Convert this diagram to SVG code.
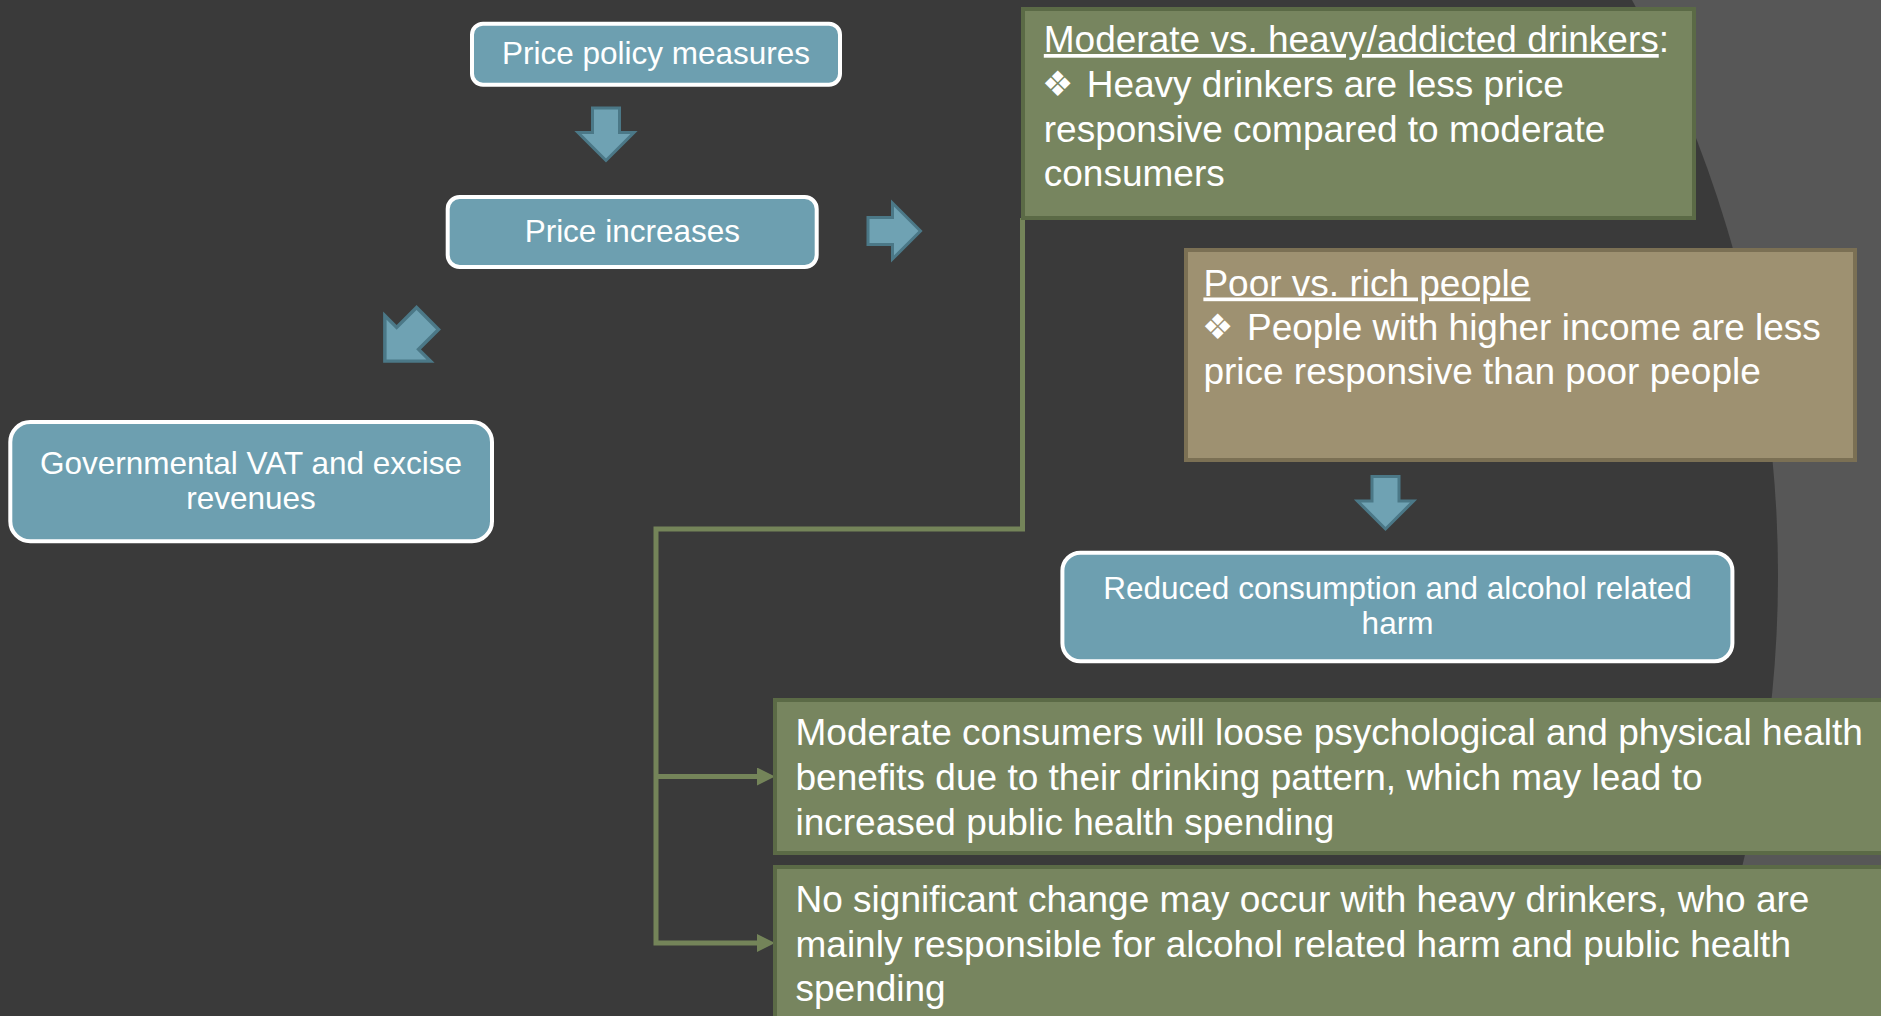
<svg xmlns="http://www.w3.org/2000/svg" width="1881" height="1016" viewBox="0 0 1881 1016">
  <defs>
    <style>
      .blue { fill: #6d9fb0; stroke: #ffffff; stroke-width: 4; }
      .green { fill: #77855f; stroke: #5b6a46; stroke-width: 4; }
      .tan { fill: #9e9171; stroke: #7b7054; stroke-width: 4; }
      .label { font-family: "Liberation Sans", Arial, sans-serif; font-size: 31.5px; fill: #ffffff; text-anchor: middle; }
      .body { font-family: "Liberation Sans", Arial, sans-serif; font-size: 37px; fill: #ffffff; }
      .bullet { font-family: "DejaVu Sans", sans-serif; font-size: 35px; fill: #ffffff; }
      .block { fill: #6fa2b3; stroke: #4b7887; stroke-width: 3; stroke-linejoin: miter; }
      .conn { fill: none; stroke: #748459; stroke-width: 5; }
    </style>
    <!-- block arrow pointing down, centred on the origin -->
    <path id="blockArrow" d="M-13.5,-26.5 H13.5 V-2 H28 L0,26 L-28,-2 H-13.5 Z"/>
    <marker id="head" markerUnits="userSpaceOnUse" viewBox="0 0 18 18" refX="5" refY="9" markerWidth="18" markerHeight="18" orient="auto">
      <path d="M0,0 L18,9 L0,18 Z" fill="#748459"/>
    </marker>
  </defs>

  <!-- background: lighter panel on the right, dark disc over the rest -->
  <rect x="0" y="0" width="1881" height="1016" fill="#575757"/>
  <circle cx="573" cy="575" r="1205" fill="#3a3a3a"/>

  <!-- block arrows -->
  <g id="block-arrows">
    <use href="#blockArrow" class="block" transform="translate(606,134.5)"/>
    <use href="#blockArrow" class="block" transform="translate(894.5,231) rotate(-90)"/>
    <use href="#blockArrow" class="block" transform="translate(406,340) rotate(45) scale(1.15)"/>
    <use href="#blockArrow" class="block" transform="translate(1385.5,503)"/>
  </g>

  <!-- elbow connector from the drinkers box to the two outcome boxes -->
  <g id="connectors">
    <path class="conn" d="M1022.5,218 V529 H656 V943 H762" marker-end="url(#head)"/>
    <path class="conn" d="M656,776.5 H762" marker-end="url(#head)"/>
  </g>

  <g id="price-policy">
    <rect class="blue" x="472" y="23.7" width="368" height="61" rx="11"/>
    <text class="label" x="656" y="64">Price policy measures</text>
  </g>

  <g id="price-increases">
    <rect class="blue" x="447.7" y="197" width="369" height="70" rx="12"/>
    <text class="label" x="632.3" y="242.3">Price increases</text>
  </g>

  <g id="government-revenues">
    <rect class="blue" x="10.3" y="422" width="481.7" height="119.3" rx="20"/>
    <text class="label" x="251" y="474">Governmental VAT and excise</text>
    <text class="label" x="251" y="509">revenues</text>
  </g>

  <g id="drinkers">
    <rect class="green" x="1023" y="9" width="671" height="209"/>
    <text class="body" x="1043.8" y="52"><tspan text-decoration="underline">Moderate vs. heavy/addicted drinkers</tspan>:</text>
    <text class="bullet" x="1042" y="96">❖</text>
    <text class="body" x="1086.7" y="97">Heavy drinkers are less price</text>
    <text class="body" x="1043.8" y="142">responsive compared to moderate</text>
    <text class="body" x="1043.8" y="186">consumers</text>
  </g>

  <g id="income">
    <rect class="tan" x="1186" y="250" width="669" height="210"/>
    <text class="body" x="1203.4" y="295.5"><tspan text-decoration="underline">Poor vs. rich people</tspan></text>
    <text class="bullet" x="1202" y="339">❖</text>
    <text class="body" x="1247" y="339.5">People with higher income are less</text>
    <text class="body" x="1203.4" y="384">price responsive than poor people</text>
  </g>

  <g id="reduced-harm">
    <rect class="blue" x="1062.4" y="552.7" width="670" height="108.6" rx="18"/>
    <text class="label" x="1397.5" y="599">Reduced consumption and alcohol related</text>
    <text class="label" x="1397.5" y="634">harm</text>
  </g>

  <g id="moderate-outcome">
    <rect class="green" x="775" y="700" width="1200" height="153"/>
    <text class="body" x="795.5" y="745">Moderate consumers will loose psychological and physical health</text>
    <text class="body" x="795.5" y="790">benefits due to their drinking pattern, which may lead to</text>
    <text class="body" x="795.5" y="835">increased public health spending</text>
  </g>

  <g id="heavy-outcome">
    <rect class="green" x="775" y="867" width="1200" height="200"/>
    <text class="body" x="795.5" y="912">No significant change may occur with heavy drinkers, who are</text>
    <text class="body" x="795.5" y="957">mainly responsible for alcohol related harm and public health</text>
    <text class="body" x="795.5" y="1001">spending</text>
  </g>
</svg>
